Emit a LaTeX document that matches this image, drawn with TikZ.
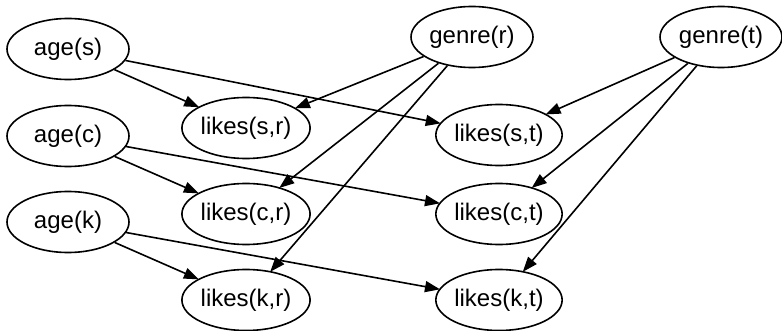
\documentclass[tikz,border=0pt]{standalone}
\usepackage{fontspec}
\setmainfont{Liberation Sans}
\usetikzlibrary{shapes.geometric}
\usetikzlibrary{arrows.meta}

\begin{document}
\begin{tikzpicture}[x=1pt, y=-1pt,
        var/.style={ellipse, draw, line width=1.6pt, minimum width=122pt, minimum height=61pt, inner sep=0pt, font=\fontsize{24}{28}\selectfont},
        dep/.style={-{Triangle[length=15pt, width=11pt]}, line width=1.6pt, shorten >=-1pt}]
        \useasboundingbox (0, 0) rectangle (782, 331);

        \node[var] (as) at (68, 49) {age(s)};
        \node[var] (ac) at (68, 136) {age(c)};
        \node[var] (ak) at (68, 222) {age(k)};

        \node[var] (gr) at (472, 37) {genre(r)};
        \node[var] (gt) at (721, 37) {genre(t)};

        \node[var] (lsr) at (246, 128) {likes(s,r)};
        \node[var] (lcr) at (246, 214) {likes(c,r)};
        \node[var] (lkr) at (246, 300) {likes(k,r)};

        \node[var] (lst) at (499, 135) {likes(s,t)};
        \node[var] (lct) at (499, 214) {likes(c,t)};
        \node[var] (lkt) at (499, 300) {likes(k,t)};

        \draw[dep] (as) -- (lsr);
        \draw[dep] (as) -- (lst);
        \draw[dep] (ac) -- (lcr);
        \draw[dep] (ac) -- (lct);
        \draw[dep] (ak) -- (lkr);
        \draw[dep] (ak) -- (lkt);

        \draw[dep] (gr) -- (lsr);
        \draw[dep] (gr) -- (lcr);
        \draw[dep] (gr) -- (lkr);
        \draw[dep] (gt) -- (lst);
        \draw[dep] (gt) -- (lct);
        \draw[dep] (gt) -- (lkt);
    \end{tikzpicture}
\end{document}
